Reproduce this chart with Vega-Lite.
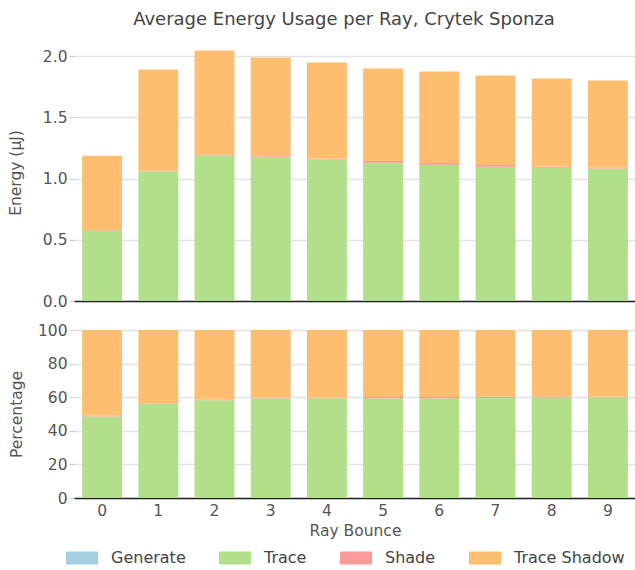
{
  "$schema": "https://vega.github.io/schema/vega-lite/v6.json",
  "padding": {"left": 8, "top": 11, "right": 0, "bottom": 0},
  "title": {"text": "Average Energy Usage per Ray, Crytek Sponza", "fontSize": 18, "fontWeight": "normal", "color": "#444", "font": "DejaVu Sans", "offset": 15, "anchor": "middle", "dx": 22},
  "data": {"values": [
    {"bounce": 0, "stage": "Generate", "energy": 0.001},
    {"bounce": 0, "stage": "Trace", "energy": 0.575},
    {"bounce": 0, "stage": "Shade", "energy": 0.005},
    {"bounce": 0, "stage": "Trace Shadow", "energy": 0.606},
    {"bounce": 1, "stage": "Generate", "energy": 0.001},
    {"bounce": 1, "stage": "Trace", "energy": 1.060},
    {"bounce": 1, "stage": "Shade", "energy": 0.006},
    {"bounce": 1, "stage": "Trace Shadow", "energy": 0.825},
    {"bounce": 2, "stage": "Generate", "energy": 0.001},
    {"bounce": 2, "stage": "Trace", "energy": 1.190},
    {"bounce": 2, "stage": "Shade", "energy": 0.008},
    {"bounce": 2, "stage": "Trace Shadow", "energy": 0.847},
    {"bounce": 3, "stage": "Generate", "energy": 0.001},
    {"bounce": 3, "stage": "Trace", "energy": 1.178},
    {"bounce": 3, "stage": "Shade", "energy": 0.010},
    {"bounce": 3, "stage": "Trace Shadow", "energy": 0.800},
    {"bounce": 4, "stage": "Generate", "energy": 0.001},
    {"bounce": 4, "stage": "Trace", "energy": 1.155},
    {"bounce": 4, "stage": "Shade", "energy": 0.008},
    {"bounce": 4, "stage": "Trace Shadow", "energy": 0.785},
    {"bounce": 5, "stage": "Generate", "energy": 0.001},
    {"bounce": 5, "stage": "Trace", "energy": 1.128},
    {"bounce": 5, "stage": "Shade", "energy": 0.014},
    {"bounce": 5, "stage": "Trace Shadow", "energy": 0.757},
    {"bounce": 6, "stage": "Generate", "energy": 0.001},
    {"bounce": 6, "stage": "Trace", "energy": 1.113},
    {"bounce": 6, "stage": "Shade", "energy": 0.014},
    {"bounce": 6, "stage": "Trace Shadow", "energy": 0.748},
    {"bounce": 7, "stage": "Generate", "energy": 0.001},
    {"bounce": 7, "stage": "Trace", "energy": 1.097},
    {"bounce": 7, "stage": "Shade", "energy": 0.014},
    {"bounce": 7, "stage": "Trace Shadow", "energy": 0.731},
    {"bounce": 8, "stage": "Generate", "energy": 0.001},
    {"bounce": 8, "stage": "Trace", "energy": 1.088},
    {"bounce": 8, "stage": "Shade", "energy": 0.010},
    {"bounce": 8, "stage": "Trace Shadow", "energy": 0.720},
    {"bounce": 9, "stage": "Generate", "energy": 0.001},
    {"bounce": 9, "stage": "Trace", "energy": 1.081},
    {"bounce": 9, "stage": "Shade", "energy": 0.008},
    {"bounce": 9, "stage": "Trace Shadow", "energy": 0.712}
  ]},
  "transform": [
    {"calculate": "indexof(['Generate', 'Trace', 'Shade', 'Trace Shadow'], datum.stage)", "as": "stageOrder"}
  ],
  "vconcat": [
    {
      "width": 562,
      "height": 257,
      "mark": {"type": "bar"},
      "encoding": {
        "x": {"field": "bounce", "type": "ordinal", "scale": {"paddingInner": 0.29, "paddingOuter": 0.145},
              "axis": {"labels": false, "ticks": false, "title": null, "domainColor": "#222", "domainWidth": 1.5, "labelPadding": 0}},
        "y": {"field": "energy", "type": "quantitative", "stack": "zero",
              "scale": {"domain": [0, 2.1], "nice": false},
              "axis": {"values": [0, 0.5, 1.0, 1.5, 2.0], "format": ".1f", "title": "Energy (μJ)", "titleX": -59}},
        "color": {"field": "stage", "type": "nominal", "sort": ["Generate", "Trace", "Shade", "Trace Shadow"],
                  "scale": {"domain": ["Generate", "Trace", "Shade", "Trace Shadow"], "range": ["#a6cee3", "#b2df8a", "#fb9a99", "#fdbf6f"]},
                  "legend": {"title": null, "orient": "none", "legendX": -8, "legendY": 498}},
        "order": {"field": "stageOrder", "type": "quantitative"}
      }
    },
    {
      "width": 562,
      "height": 168,
      "mark": {"type": "bar"},
      "encoding": {
        "x": {"field": "bounce", "type": "ordinal", "scale": {"paddingInner": 0.29, "paddingOuter": 0.145},
              "axis": {"labelAngle": 0, "ticks": false, "labelPadding": 5, "title": "Ray Bounce", "domainColor": "#222", "domainWidth": 1.5}},
        "y": {"field": "energy", "type": "quantitative", "stack": "normalize",
              "scale": {"domain": [0, 1], "nice": false},
              "axis": {"values": [0, 0.2, 0.4, 0.6, 0.8, 1.0], "labelExpr": "format(datum.value*100, 'd')", "title": "Percentage", "titleX": -58}},
        "color": {"field": "stage", "type": "nominal", "sort": ["Generate", "Trace", "Shade", "Trace Shadow"],
                  "scale": {"domain": ["Generate", "Trace", "Shade", "Trace Shadow"], "range": ["#a6cee3", "#b2df8a", "#fb9a99", "#fdbf6f"]},
                  "legend": {"title": null, "orient": "none", "legendX": -8, "legendY": 498}},
        "order": {"field": "stageOrder", "type": "quantitative"}
      }
    }
  ],
  "spacing": 13,
  "resolve": {"scale": {"color": "shared"}, "legend": {"color": "shared"}},
  "config": {
    "font": "DejaVu Sans",
    "view": {"stroke": null},
    "axis": {"labelFont": "DejaVu Sans", "titleFont": "DejaVu Sans", "labelFontSize": 15.5, "titleFontSize": 15.5, "labelColor": "#555", "titleColor": "#555", "titleFontWeight": "normal", "gridColor": "#e3e3e3", "gridWidth": 1.3},
    "axisY": {"domain": false, "tickColor": "#ccc", "tickSize": 5, "labelPadding": 2, "titleBaseline": "middle"},
    "axisX": {"grid": false, "titlePadding": 5},
    "legend": {"direction": "horizontal", "labelFontSize": 16, "labelColor": "#444", "labelFont": "DejaVu Sans", "symbolType": "M-1,-0.406h2v0.812h-2z", "symbolSize": 1024, "symbolStrokeWidth": 0, "columnPadding": 33, "labelOffset": 13, "symbolOpacity": 1}
  }
}
